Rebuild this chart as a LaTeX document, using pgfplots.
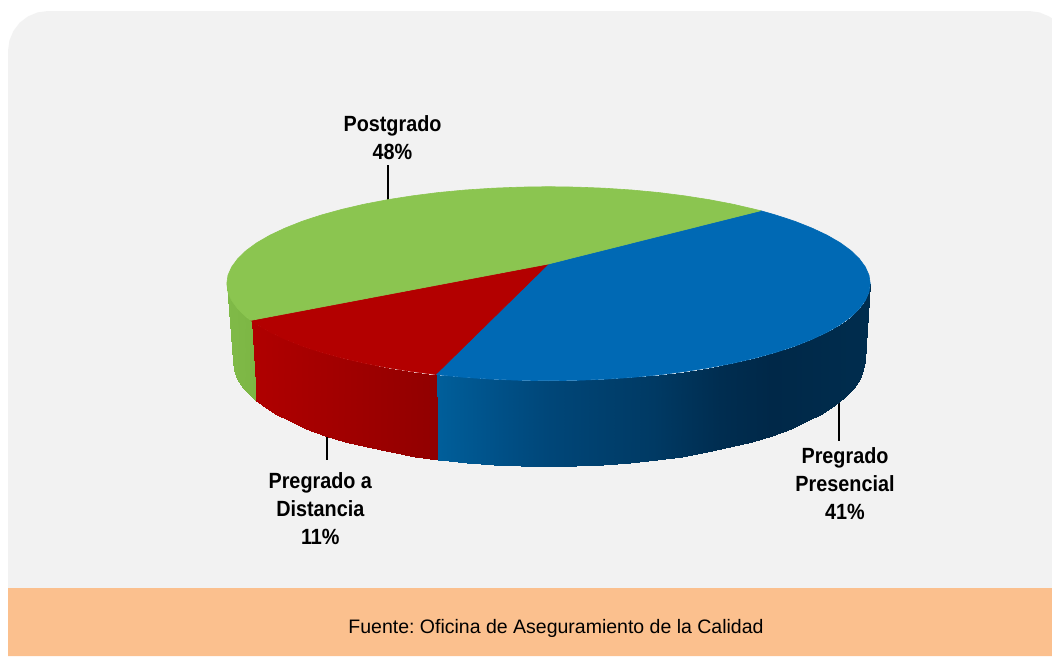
\documentclass[border=0pt]{standalone}
\usepackage{pgfplots}
\pgfplotsset{compat=1.18}
\usepackage{fontspec}
\setmainfont{Liberation Sans}
\newfontfamily\lab[FakeStretch=0.9]{Liberation Sans Bold}
\definecolor{bgg}{RGB}{242,242,242}
\definecolor{org}{RGB}{251,192,142}
\definecolor{grn}{RGB}{139,197,80}
\definecolor{blu}{RGB}{0,105,180}
\definecolor{rd}{RGB}{179,0,0}
\frenchspacing
\begin{document}
\begin{tikzpicture}[x=1pt,y=1pt]
\begin{axis}[
  scale only axis, width=1052pt, height=656pt,
  xmin=0, xmax=1052, ymin=0, ymax=656, y dir=reverse,
  hide axis, clip=true,
  colormap={dummy}{rgb255(0pt)=(0,0,0); rgb255(1pt)=(255,255,255)},
]
% page
\addplot[fill=white, draw=none] coordinates {(0,0)(1052,0)(1052,656)(0,656)(0,0)};
% grey panel
\addplot[fill=bgg, draw=none] coordinates {
 (8,590)(8,51)(9.4,40.6)(13.4,31)(19.7,22.7)(28,16.4)(37.6,12.4)(48,11)
 (1029,11)(1039.4,12.4)(1049,16.4)(1052,18.3)(1052,590)(8,590)};
% orange band
\addplot[fill=org, draw=none] coordinates {(8,588)(1052,588)(1052,656)(8,656)(8,588)};
% leader lines
\addplot[black, line width=1.8pt] coordinates {(387.7,165)(387.7,205)};
\addplot[black, line width=1.8pt] coordinates {(839,395)(839,441)};
\addplot[black, line width=1.8pt] coordinates {(326.8,430)(326.8,460)};
% blue side
\addplot[surf, shader=interp, mesh/rows=2, point meta=x, point meta rel=per plot,
  colormap={sb}{rgb255(0pt)=(0,95,155); rgb255(63pt)=(0,80,135); rgb255(113pt)=(0,70,120); rgb255(213pt)=(0,58,100); rgb255(280pt)=(0,45,80); rgb255(330pt)=(0,40,72); rgb255(427pt)=(0,45,78)}]
 coordinates {
 (435.7,374.5)(438.5,374.9)(465.2,377.4)(492.6,379.2)(520.5,380.3)(548.5,380.7)(576.5,380.3)(604.4,379.2)(631.8,377.4)(658.5,374.9)(684.4,371.6)(709.4,367.7)(733.0,363.2)(755.3,358.0)(776.0,352.3)(794.9,346.1)(812.0,339.3)(827.1,332.2)(840.1,324.7)(850.8,316.9)(859.2,308.8)(865.3,300.5)(869.0,292.2)(870.2,283.7)

 (437.8,459.8)(440.4,460.1)(466.7,462.9)(493.6,464.9)(520.9,466.1)(548.5,466.5)(576.1,466.1)(603.4,464.9)(630.3,462.9)(656.6,460.1)(682.0,456.6)(706.5,452.3)(729.8,447.3)(751.6,441.7)(771.9,435.5)(790.6,428.6)(807.4,421.3)(822.2,413.5)(834.9,405.3)(845.4,396.8)(853.7,387.9)(859.7,378.9)(863.3,369.7)(864.5,360.5)
 };
% red side
\addplot[surf, shader=interp, mesh/rows=2, point meta=x, point meta rel=per plot,
  colormap={sr}{rgb255(0pt)=(176,0,0); rgb255(1pt)=(145,0,0)}]
 coordinates {
 (250.7,320.4)(256.9,324.7)(269.9,332.2)(285.0,339.3)(302.1,346.1)(321.0,352.3)(341.7,358.0)(364.0,363.2)(387.6,367.7)(412.6,371.6)(435.7,374.5)

 (255.9,400.5)(262.1,405.3)(274.8,413.5)(289.6,421.3)(306.4,428.6)(325.1,435.5)(345.4,441.7)(367.2,447.3)(390.5,452.3)(415.0,456.6)(437.8,459.8)
 };
% green side
\addplot[surf, shader=interp, mesh/rows=2, point meta=x, point meta rel=per plot,
  colormap={sg}{rgb255(0pt)=(128,186,72); rgb255(1pt)=(124,182,68)}]
 coordinates {
 (226.8,283.7)(228.0,292.2)(231.7,300.5)(237.8,308.8)(246.2,316.9)(250.7,320.4)

 (232.5,360.5)(233.7,369.7)(237.3,378.9)(243.3,387.9)(251.6,396.8)(255.9,400.5)
 };
% top: blue
\addplot[fill=blu, draw=blu, line width=0.6pt, line join=round] coordinates {
 (548.3,264)(760.7,210.7)(776.0,215.1)(794.9,221.3)(812.0,228.1)(827.1,235.2)(840.1,242.7)(850.8,250.5)(859.2,258.6)(865.3,266.9)(869.0,275.2)(870.2,283.7)(869.0,292.2)(865.3,300.5)(859.2,308.8)(850.8,316.9)(840.1,324.7)(827.1,332.2)(812.0,339.3)(794.9,346.1)(776.0,352.3)(755.3,358.0)(733.0,363.2)(709.4,367.7)(684.4,371.6)(658.5,374.9)(631.8,377.4)(604.4,379.2)(576.5,380.3)(548.5,380.7)(520.5,380.3)(492.6,379.2)(465.2,377.4)(438.5,374.9)(435.7,374.5)(548.3,264)};
% top: red
\addplot[fill=rd, draw=rd, line width=0.6pt, line join=round] coordinates {
 (548.3,264)(435.7,374.5)(412.6,371.6)(387.6,367.7)(364.0,363.2)(341.7,358.0)(321.0,352.3)(302.1,346.1)(285.0,339.3)(269.9,332.2)(256.9,324.7)(250.7,320.4)(548.3,264)};
% top: green
\addplot[fill=grn, draw=grn, line width=0.6pt, line join=round] coordinates {
 (548.3,264)(250.7,320.4)(246.2,316.9)(237.8,308.8)(231.7,300.5)(228.0,292.2)(226.8,283.7)(228.0,275.2)(231.7,266.9)(237.8,258.6)(246.2,250.5)(256.9,242.7)(269.9,235.2)(285.0,228.1)(302.1,221.3)(321.0,215.1)(341.7,209.4)(364.0,204.2)(387.6,199.7)(412.6,195.8)(438.5,192.5)(465.2,190.0)(492.6,188.2)(520.5,187.1)(548.5,186.7)(576.5,187.1)(604.4,188.2)(631.8,190.0)(658.5,192.5)(684.4,195.8)(709.4,199.7)(733.0,204.2)(755.3,209.4)(760.7,210.7)(548.3,264)};
% labels
\node[align=center, font=\fontsize{22}{27.7}\selectfont\lab] at (axis cs:392.5,137.5) {Postgrado\\48\%};
\node[align=center, font=\fontsize{22}{27.7}\selectfont\lab] at (axis cs:845,483.5) {Pregrado\\Presencial\\41\%};
\node[align=center, font=\fontsize{22}{27.7}\selectfont\lab] at (axis cs:320.3,508.5) {Pregrado a\\Distancia\\11\%};
\node[font=\fontsize{19.5}{24}\selectfont] at (axis cs:556,628) {Fuente: Oficina de Aseguramiento de la Calidad};
\end{axis}
\end{tikzpicture}
\end{document}
